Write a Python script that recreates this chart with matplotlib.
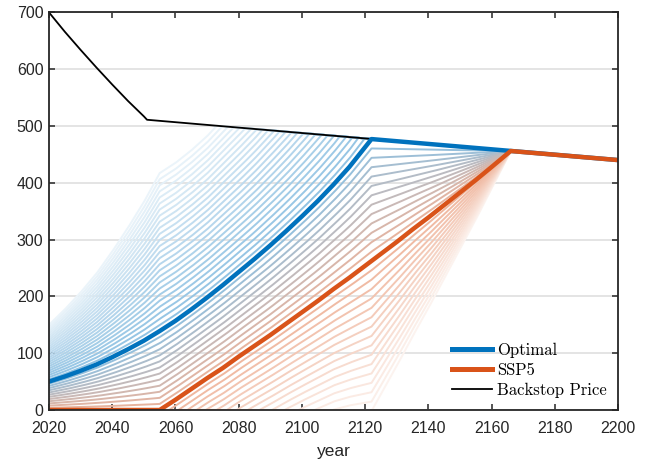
import matplotlib
matplotlib.use("Agg")
import matplotlib.pyplot as plt
import numpy as np

# backstop price (convex decline, then linear after the kink)
backstop_years = [2020, 2025, 2030, 2035, 2040, 2045, 2050, 2051, 2200]
backstop = [700, 666, 634, 603, 573, 544, 517, 511, 440]

# optimal path, joins the backstop at 2122
optimal_years = [2020, 2025, 2030, 2035, 2040, 2045, 2050, 2055, 2060, 2065,
                 2070, 2075, 2080, 2085, 2090, 2095, 2100, 2105, 2110, 2115,
                 2120, 2122, 2200]
optimal = [50, 59, 69, 80, 93, 107, 122, 139, 157, 177,
           198, 220, 243, 266, 290, 315, 341, 368, 397, 428,
           463, 477, 440]

# SSP5 path, zero until 2055, joins the backstop at 2166
ssp5_years = [2020, 2055, 2060, 2065, 2070, 2075, 2080, 2085, 2090, 2095,
              2100, 2105, 2110, 2115, 2120, 2125, 2130, 2135, 2140, 2145,
              2150, 2155, 2160, 2166, 2200]
ssp5 = [0, 0, 18, 37, 56, 74, 94, 113, 132, 152,
        172, 192, 213, 233, 254, 275, 296, 318, 339, 361,
        383, 405, 428, 456, 440]

# mixing weights of the intermediate paths (0 = optimal, 1 = SSP5)
mix = np.arange(-26, 30) / 13

blue = np.array([0, 114, 189]) / 255
orange = np.array([217, 83, 25]) / 255

fig = plt.figure(figsize=(6.49, 4.65), dpi=100)
ax = fig.add_axes([0.0755, 0.1183, 0.877, 0.855])

t = np.arange(2020, 2200.25, 0.25)
b = np.interp(t, backstop_years, backstop)
o = np.interp(t, optimal_years, optimal)
s = np.interp(t, ssp5_years, ssp5)

# draw from the faint outer paths inwards
order = sorted(mix, key=lambda a: -abs(a - 0.5))
for a in order:
    path = np.clip(o + a * (s - o), 0, b)
    base = blue + np.clip(a, 0, 1) * (orange - blue)
    if a < 0:
        k = 0.44 - 0.18 * abs(a)
    elif a > 1:
        k = 0.44 - 0.3 * (a - 1)
    else:
        k = 0.44
    k = max(k, 0.04)
    col = 1 - k * (1 - base)
    ax.plot(t, path, color=col, lw=1.4, solid_capstyle='butt', zorder=2)

l3, = ax.plot(backstop_years, backstop, color='black', lw=1.3, zorder=3)
l1, = ax.plot(optimal_years, optimal, color=blue, lw=3.2, zorder=4)
l2, = ax.plot(ssp5_years, ssp5, color=orange, lw=3.2, zorder=5)

ax.set_xlim(2020, 2200)
ax.set_ylim(0, 700)
ax.set_xticks(np.arange(2020, 2201, 20))
ax.set_yticks(np.arange(0, 701, 100))
ax.yaxis.grid(True, color='#e2e2e2', lw=1.3)
ax.set_axisbelow(True)

for sp in ax.spines.values():
    sp.set_color('#262626')
    sp.set_linewidth(1.3)
    sp.set_zorder(6)
ax.tick_params(direction='in', top=True, right=True, length=4, width=1.1,
               color='#262626', labelcolor='#262626', labelsize=11.5)
ax.tick_params(axis='x', pad=8)
ax.tick_params(axis='y', pad=4)
for lab in ax.get_xticklabels() + ax.get_yticklabels():
    lab.set_family('Liberation Sans')

ax.set_xlabel('year', fontsize=12.5, family='Liberation Sans',
              color='#262626', labelpad=6)

leg = ax.legend([l1, l2, l3], ['Optimal', 'SSP5', 'Backstop Price'],
                loc='lower right', bbox_to_anchor=(1.0, 0.0), frameon=False,
                prop={'family': 'cmr10', 'size': 12}, handlelength=2.4,
                handletextpad=0.3, labelspacing=0.3, borderaxespad=0.3)
for h in leg.legend_handles[:2]:
    h.set_linewidth(3.6)

fig.savefig('out.png', dpi=100)
